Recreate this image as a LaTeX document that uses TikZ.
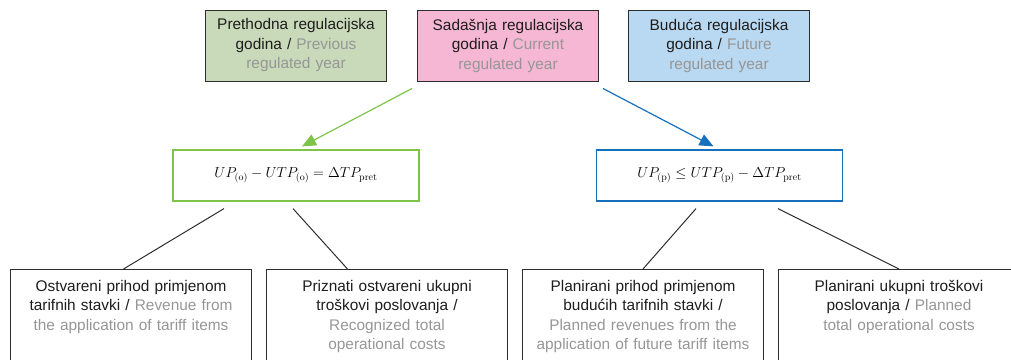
\documentclass[tikz,border=0pt]{standalone}
\usepackage[no-math]{fontspec}
\setmainfont{Liberation Sans}
\usetikzlibrary{positioning,calc,arrows.meta}
\definecolor{prevgreen}{RGB}{200,218,185}
\definecolor{curpink}{RGB}{245,183,211}
\definecolor{futblue}{RGB}{185,216,241}
\definecolor{arrgreen}{RGB}{125,196,72}
\definecolor{arrblue}{RGB}{22,112,188}
\definecolor{engray}{RGB}{150,150,150}
\definecolor{txtblack}{RGB}{30,28,28}
\definecolor{boxline}{RGB}{45,45,45}
\newcommand{\engl}{\color{engray}}
\tikzset{
  txt/.style={font=\fontsize{15.4}{19.5}\selectfont, text=txtblack, align=center},
  topbox/.style={txt, draw=boxline, line width=1pt, minimum width=181, minimum height=71, text width=178, inner sep=0pt},
  eqbox/.style={draw, line width=1.2pt, fill=white, minimum width=246, minimum height=51, font=\fontsize{14.5}{17}\selectfont},
  bottombox/.style={draw=boxline, line width=1pt, minimum width=241, minimum height=120, anchor=north west, inner sep=0pt},
  boxtext/.style={txt, text width=238, inner sep=0pt, anchor=north},
  link/.style={draw=boxline, line width=1pt},
  pointer/.style={line width=1.2pt, -{Triangle[length=14pt,width=12pt]}}
}
\begin{document}
\begin{tikzpicture}[x=1pt,y=-1pt]
\clip (0,0) rectangle (1011,359);
\node[topbox, fill=prevgreen] (prev) at (296,45.5) {Prethodna regulacijska\\ godina / \engl Previous\\ regulated year};
\node[topbox, fill=curpink] (cur) at (508,45.5) {Sadašnja regulacijska\\ godina / \engl Current\\ regulated year};
\node[topbox, fill=futblue] (fut) at (719,45.5) {Buduća regulacijska\\ godina / \engl Future\\ regulated year};

\node[eqbox, draw=arrgreen] (eqo) at (296,175.5) {$UP_{(\mathrm{o})} - UTP_{(\mathrm{o})} = \Delta TP_{\mathrm{pret}}$};
\node[eqbox, draw=arrblue] (eqp) at (719.5,175.5) {$UP_{(\mathrm{p})} \leq UTP_{(\mathrm{p})} - \Delta TP_{\mathrm{pret}}$};

\draw[pointer, arrgreen] ($(cur.south west)+(-5,7)$) -- ($(eqo.north)+(6,-3)$);
\draw[pointer, arrblue] ($(cur.south east)+(4,7)$) -- ($(eqp.north)+(-6,-3)$);

\node[bottombox] (ostv) at (10,269) {};
\node[bottombox] (prizn) at (266,269) {};
\node[bottombox] (plprih) at (522,269) {};
\node[bottombox] (pltros) at (778,269) {};

\node[boxtext, below=11pt of ostv.north] (ostvtxt) {Ostvareni prihod primjenom\\ tarifnih stavki / \engl Revenue from\\ the application of tariff items};
\node[boxtext, below=11pt of prizn.north] (prizntxt) {Priznati ostvareni ukupni\\ troškovi poslovanja /\\ \engl Recognized total\\ operational costs};
\node[boxtext, below=11pt of plprih.north] (plprihtxt) {Planirani prihod primjenom\\ budućih tarifnih stavki /\\ \engl Planned revenues from the\\ application of future tariff items};
\node[boxtext, below=11pt of pltros.north] (pltrostxt) {Planirani ukupni troškovi\\ poslovanja / \engl Planned\\ total operational costs};

\draw[link] ($(eqo.south)+(-72,7)$) -- ($(ostv.north)+(-7.5,0)$);
\draw[link] ($(eqo.south)+(-3,7)$) -- ($(prizn.north)+(-39.5,0)$);
\draw[link] ($(eqp.south)+(-23.5,7)$) -- (plprih.north);
\draw[link] ($(eqp.south)+(58.5,7)$) -- (pltros.north);
\end{tikzpicture}
\end{document}
